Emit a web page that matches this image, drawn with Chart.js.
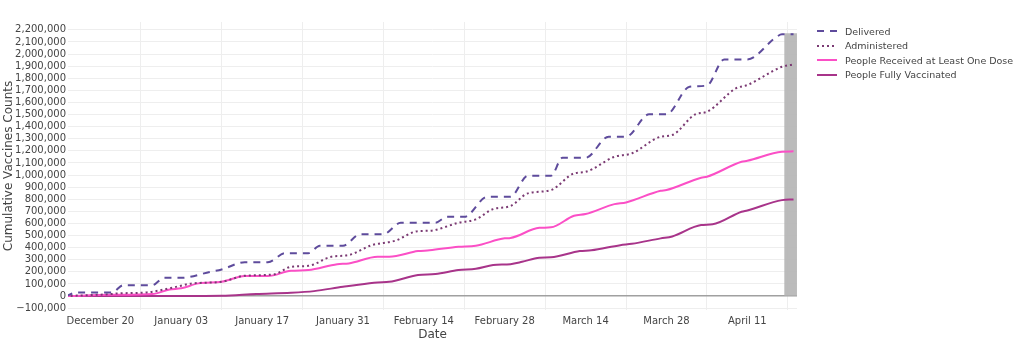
<!DOCTYPE html>
<html>
<head>
<meta charset="utf-8">
<script src="https://cdn.jsdelivr.net/npm/chart.js@4"></script>
<style>
  body { margin: 0; background: #fff; }
  #wrap { position: relative; width: 1024px; height: 342px; }
  #legend { position: absolute; left: 816px; top: 24px; font: 9.5px "DejaVu Sans", sans-serif; color: #444; }
  #legend .row { height: 14.5px; display: flex; align-items: center; white-space: nowrap; }
  #legend svg { width: 22px; height: 10px; margin-right: 7px; }
</style>
</head>
<body>
<div id="wrap">
  <canvas id="vaxChart" width="1024" height="342"></canvas>
  <div id="legend"></div>
</div>
<script>
// days counted from 2020-12-14
const tickDays = [6, 20, 34, 48, 62, 76, 90, 104, 118];
const tickLabels = ['December 20', 'January 03', 'January 17', 'January 31', 'February 14',
                    'February 28', 'March 14', 'March 28', 'April 11'];

// y ticks every 100k from -100k to 2.2M
const countTicks = [];
for (let v = -100000; v <= 2200000; v += 100000) countTicks.push(v);

const deliveredDays   = [0, 2, 8, 10, 15, 17, 20, 25, 27, 31, 35, 38, 42, 44, 48, 51, 55, 58, 64, 66, 69, 73, 77,
                         80, 84, 86, 90, 94, 97, 101, 104, 108, 111, 114, 118, 123, 124, 126];
const deliveredCounts = [0, 30000, 30000, 90000, 90000, 151000, 151000, 200000, 220000, 280000, 280000, 355000,
                         355000, 416000, 416000, 512000, 512000, 606000, 606000, 655000, 655000, 821000, 821000,
                         994000, 994000, 1143000, 1143000, 1317000, 1317000, 1502000, 1502000, 1730000, 1740000,
                         1956000, 1956000, 2140000, 2163000, 2163000];

const administeredDays   = [0, 4, 8, 9, 14, 18, 22, 27, 31, 36, 39, 42, 46, 49, 53, 57, 61, 63, 68, 71, 74, 77, 80,
                            84, 88, 90, 95, 98, 103, 105, 109, 111, 116, 118, 124, 126];
const administeredCounts = [0, 8000, 17000, 22000, 30000, 64000, 105000, 118000, 168000, 179000, 242000, 250000,
                            325000, 339000, 421000, 457000, 537000, 540000, 606000, 634000, 719000, 744000, 849000,
                            876000, 1014000, 1027000, 1151000, 1179000, 1317000, 1331000, 1502000, 1523000, 1716000,
                            1744000, 1895000, 1915000];

const oneDoseDays   = [0, 8, 15, 18, 20, 23, 27, 31, 35, 39, 42, 47, 49, 54, 56, 61, 63, 68, 71, 76, 77, 82, 84,
                       88, 90, 95, 97, 103, 104, 110, 111, 117, 118, 124, 126];
const oneDoseCounts = [0, 10000, 17000, 55000, 64000, 105000, 118000, 165000, 165000, 209000, 215000, 264000,
                       270000, 325000, 325000, 372000, 378000, 408000, 416000, 477000, 480000, 564000, 568000,
                       664000, 678000, 760000, 774000, 870000, 876000, 978000, 986000, 1110000, 1118000, 1193000,
                       1196000];

const fullyDays   = [0, 20, 27, 33, 39, 43, 48, 49, 54, 56, 61, 64, 68, 71, 74, 77, 79, 82, 84, 89, 91, 96, 98,
                     103, 105, 110, 112, 117, 118, 124, 126];
const fullyCounts = [0, 0, 2000, 17000, 27000, 41000, 77000, 83000, 113000, 118000, 174000, 182000, 215000,
                     226000, 256000, 264000, 283000, 317000, 320000, 372000, 378000, 421000, 432000, 477000,
                     493000, 587000, 593000, 697000, 708000, 793000, 799000];

// shaded band over the latest reporting day
const latestDay = 125.5;
const latestTotal = 2170000;

const toPoints = (days, counts) => days.map((d, i) => ({ x: d, y: counts[i] }));

const series = [
  { label: 'Delivered', days: deliveredDays, counts: deliveredCounts, color: '#5e4b9c', dash: [7, 6] },
  { label: 'Administered', days: administeredDays, counts: administeredCounts, color: '#7b3a73', dash: [2, 3] },
  { label: 'People Received at Least One Dose', days: oneDoseDays, counts: oneDoseCounts, color: '#fb4fc6', dash: [] },
  { label: 'People Fully Vaccinated', days: fullyDays, counts: fullyCounts, color: '#a8348a', dash: [] }
];

const datasets = series.map(s => ({
  label: s.label,
  data: toPoints(s.days, s.counts),
  borderColor: s.color,
  borderWidth: 2,
  borderDash: s.dash,
  pointRadius: 0,
  fill: false,
  cubicInterpolationMode: 'monotone',
  order: 1
}));

datasets.push({
  type: 'bar',
  label: 'Latest',
  data: [{ x: latestDay, y: latestTotal }],
  backgroundColor: 'rgba(180, 180, 180, 0.9)',
  barThickness: 12,
  order: 10
});

const fmt = v => (v < 0 ? '\u2212' : '') + Math.abs(v).toLocaleString('en-US');
const tickFont = { family: 'DejaVu Sans', size: 10 };
const titleFont = { family: 'DejaVu Sans', size: 12 };

new Chart(document.getElementById('vaxChart'), {
  type: 'line',
  data: { datasets: datasets },
  options: {
    responsive: false,
    animation: false,
    layout: { padding: { top: 22, right: 227, bottom: 0, left: 0 } },
    plugins: { legend: { display: false }, tooltip: { enabled: false } },
    scales: {
      x: {
        type: 'linear',
        min: 0.4,
        max: 126.6,
        offset: false,
        afterBuildTicks: axis => { axis.ticks = tickDays.map(v => ({ value: v })); },
        afterFit: scale => { scale.height = 32; },
        ticks: {
          autoSkip: false, maxRotation: 0, padding: 5, color: '#444', font: tickFont,
          callback: v => tickLabels[tickDays.indexOf(v)]
        },
        grid: { color: '#eeeeee', drawTicks: false },
        border: { display: false },
        title: { display: true, text: 'Date', color: '#444', font: titleFont, padding: { top: 0, bottom: 0 } }
      },
      y: {
        min: -115000,
        max: 2265000,
        afterBuildTicks: axis => { axis.ticks = countTicks.map(v => ({ value: v })); },
        afterFit: scale => { scale.width = 68; },
        ticks: { autoSkip: false, padding: 2, color: '#444', font: tickFont, callback: v => fmt(v) },
        grid: {
          drawTicks: false,
          color: ctx => ctx.tick && ctx.tick.value === 0 ? '#a0a0a0' : '#eeeeee',
          lineWidth: ctx => ctx.tick && ctx.tick.value === 0 ? 1.5 : 1
        },
        border: { display: false },
        title: { display: true, text: 'Cumulative Vaccines Counts', color: '#444', font: titleFont, padding: { top: 2, bottom: 0 } }
      }
    }
  }
});

// legend with line samples
const legend = document.getElementById('legend');
series.forEach(s => {
  const row = document.createElement('div');
  row.className = 'row';
  const dash = s.dash.length ? ` stroke-dasharray="${s.dash.join(',')}"` : '';
  row.innerHTML = `<svg viewBox="0 0 22 10"><line x1="1" y1="5" x2="21" y2="5" stroke="${s.color}" stroke-width="2"${dash}/></svg><span>${s.label}</span>`;
  legend.appendChild(row);
});
</script>
</body>
</html>
